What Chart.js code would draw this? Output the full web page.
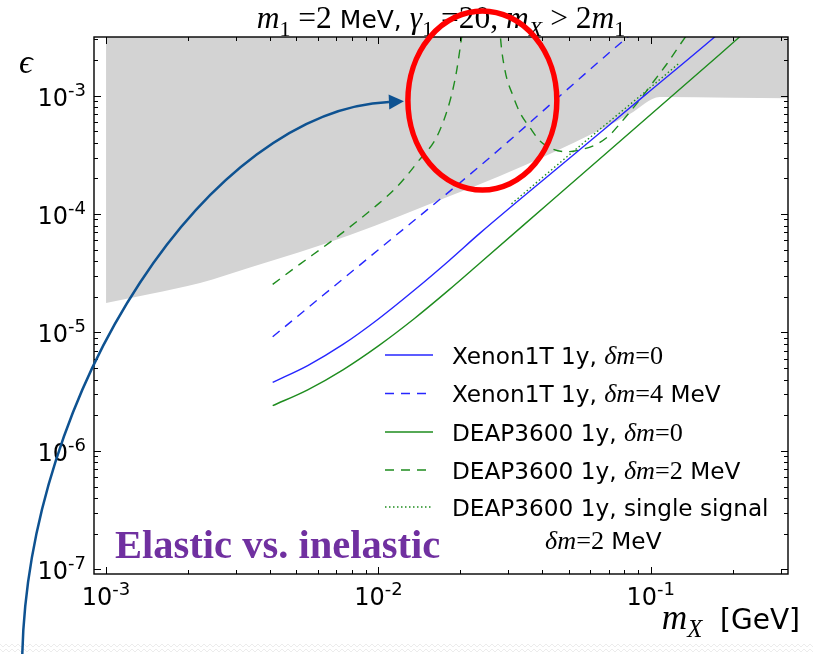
<!DOCTYPE html>
<html>
<head>
<meta charset="utf-8">
<script src="https://cdn.jsdelivr.net/npm/chart.js@4.4.1/dist/chart.umd.min.js"></script>
<style>
  html, body { margin: 0; padding: 0; background: #ffffff; }
  #wrap { width: 815px; height: 654px; }
</style>
</head>
<body>
<div id="wrap"><canvas id="chart" width="815" height="654"></canvas></div>
<script>
// ---- axis ranges (GeV, epsilon) ----
const massRange = [9.03e-4, 0.319];
const epsRange = [9.12e-8, 3.13e-3];

// ---- decade tick labels (exponents of 10) ----
const xTickExp = [-3, -2, -1];
const yTickExp = [-7, -6, -5, -4, -3];

// ---- excluded region: lower edge of the shaded area ----
const boundMass = [0.001, 0.00145, 0.002213, 0.003376, 0.005151, 0.007858, 0.011991, 0.018296, 0.027915, 0.04259, 0.065, 0.08376, 0.1079, 0.2, 0.35];
const boundEps  = [1.774e-5, 2.113e-5, 2.617e-5, 3.54e-5, 4.786e-5, 6.66e-5, 9.64e-5, 1.422e-4, 2.099e-4, 3.22e-4, 5.13e-4, 7.0e-4, 9.75e-4, 9.6e-4, 9.5e-4];

// ---- Xenon1T 1y, dm = 0 ----
const xeMass0 = [0.00409, 0.0055, 0.00741, 0.01, 0.01349, 0.0182, 0.0236, 0.0548, 0.0964, 0.1694, 0.19];
const xeEps0  = [3.79e-6, 5.25e-6, 7.92e-6, 1.3e-5, 2.26e-5, 4.06e-5, 6.9e-5, 3.49e-4, 1.035e-3, 3.06e-3, 3.85e-3];

// ---- Xenon1T 1y, dm = 4 MeV ----
const xeMass4 = [0.00409, 0.01, 0.0236, 0.0791, 0.09];
const xeEps4  = [9.2e-6, 5.0e-5, 2.55e-4, 2.9e-3, 3.7e-3];

// ---- DEAP3600 1y, dm = 0 ----
const deMass0 = [0.00409, 0.0055, 0.00741, 0.01, 0.01349, 0.0182, 0.0236, 0.0426, 0.179, 0.23];
const deEps0  = [2.41e-6, 3.28e-6, 4.84e-6, 7.71e-6, 1.3e-5, 2.3e-5, 3.86e-5, 1.26e-4, 2.23e-3, 3.7e-3];

// ---- DEAP3600 1y, dm = 2 MeV (two branches joined above the frame) ----
const deMass2 = [0.00409, 0.00515, 0.00681, 0.00987, 0.01167, 0.0138, 0.01682, 0.0191, 0.0202, 0.0206, 0.0208,
                 0.0276, 0.0278, 0.02805, 0.0291, 0.0312, 0.0331, 0.036, 0.0392, 0.0439, 0.0491, 0.0548, 0.06321,
                 0.07071, 0.0769, 0.08376, 0.09346, 0.1034, 0.1145, 0.1278, 0.1414];
const deEps2  = [2.55e-5, 3.78e-5, 6.04e-5, 1.19e-4, 1.69e-4, 2.68e-4, 5.13e-4, 1.36e-3, 3.1e-3, 4.4e-3, 1e-2,
                 1e-2, 4.4e-3, 3.13e-3, 1.67e-3, 9.94e-4, 7.18e-4, 5.37e-4, 4.14e-4, 3.52e-4, 3.36e-4, 3.478e-4, 3.886e-4,
                 4.66e-4, 5.77e-4, 7.28e-4, 9.94e-4, 1.357e-3, 1.852e-3, 2.68e-3, 3.73e-3];

// ---- DEAP3600 1y, single signal, dm = 2 MeV ----
const deMassS = [0.0308, 0.0426, 0.0548, 0.0964, 0.1278];
const deEpsS  = [1.22e-4, 2.3e-4, 3.75e-4, 1.1e-3, 1.9e-3];

// ---- legend text (sans text mixed with math italic) ----
const legendRows = [
  [{t: 'Xenon1T 1y, ', s: 'sans'}, {t: 'δm', s: 'it'}, {t: '=0', s: 'rm'}],
  [{t: 'Xenon1T 1y, ', s: 'sans'}, {t: 'δm', s: 'it'}, {t: '=4', s: 'rm'}, {t: ' MeV', s: 'sans'}],
  [{t: 'DEAP3600 1y, ', s: 'sans'}, {t: 'δm', s: 'it'}, {t: '=0', s: 'rm'}],
  [{t: 'DEAP3600 1y, ', s: 'sans'}, {t: 'δm', s: 'it'}, {t: '=2', s: 'rm'}, {t: ' MeV', s: 'sans'}],
  [{t: 'DEAP3600 1y, single signal', s: 'sans'}]
];
const legendExtraLine = [{t: 'δm', s: 'it'}, {t: '=2', s: 'rm'}, {t: ' MeV', s: 'sans'}];

const titleText = [
  {t: 'm', s: 'it'}, {t: '1', s: 'rm', sub: 1}, {t: ' =2', s: 'rm'}, {t: ' MeV, ', s: 'sans'},
  {t: 'γ', s: 'it'}, {t: '1', s: 'rm', sub: 1}, {t: ' =20, ', s: 'rm'},
  {t: 'm', s: 'it'}, {t: 'X', s: 'it', sub: 1}, {t: ' > 2', s: 'rm'}, {t: 'm', s: 'it'}, {t: '1', s: 'rm', sub: 1}
];
const xLabelText = [{t: 'm', s: 'it'}, {t: 'X', s: 'it', sub: 1}, {t: '  [GeV]', s: 'sans'}];
const yLabelText = [{t: 'ϵ', s: 'it'}];
const noteText = 'Elastic vs. inelastic';

// ---- annotation geometry, in data coordinates ----
const noteAnchor = {x: 1.079e-3, y: 1.245e-7};
const ringBox = {xMin: 0.01283, xMax: 0.04519, yMin: 1.597e-4, yMax: 5.19e-3};
const arrowCurve = [[4.92e-4, 1.71e-8], [5.085e-4, 3.268e-6], [2.408e-3, 7.57e-4], [0.01093, 8.85e-4]];

const BLUE = '#2626ff';
const GREEN = '#1e8c1e';
const SANS = '"DejaVu Sans", "Noto Sans", sans-serif';
const MATH = '"Liberation Serif", "DejaVu Serif", serif';

const pts = (xs, ys) => xs.map((v, i) => ({x: v, y: ys[i]}));

function segFont(seg, size, mathScale) {
  const math = seg.s !== 'sans';
  let sz = math ? size * mathScale : size;
  if (seg.sub) sz *= 0.7;
  return (seg.s === 'it' ? 'italic ' : '') + sz.toFixed(1) + 'px ' + (math ? MATH : SANS);
}
function richWidth(ctx, segs, size, mathScale) {
  let w = 0;
  for (const s of segs) { ctx.font = segFont(s, size, mathScale); w += ctx.measureText(s.t).width; }
  return w;
}
function drawRich(ctx, segs, x, y, size, align, mathScale) {
  const w = richWidth(ctx, segs, size, mathScale);
  let cx = align === 'center' ? x - w / 2 : align === 'right' ? x - w : x;
  ctx.textAlign = 'left';
  ctx.textBaseline = 'alphabetic';
  for (const s of segs) {
    ctx.font = segFont(s, size, mathScale);
    ctx.fillText(s.t, cx, y + (s.sub ? size * 0.3 : 0));
    cx += ctx.measureText(s.t).width;
  }
  return w;
}
function powerLabel(ctx, exp, x, y, align) {
  ctx.textAlign = 'left';
  ctx.textBaseline = 'alphabetic';
  ctx.font = '24px ' + SANS;
  const wb = ctx.measureText('10').width;
  ctx.font = '18px ' + SANS;
  const we = ctx.measureText(String(exp)).width;
  const w = wb + we;
  const x0 = align === 'center' ? x - w / 2 : x - w;
  ctx.font = '24px ' + SANS;
  ctx.fillText('10', x0, y);
  ctx.font = '18px ' + SANS;
  ctx.fillText(String(exp), x0 + wb, y - 10);
}
function logTicks(min, max) {
  const out = [];
  for (let e = Math.floor(Math.log10(min)); e <= Math.ceil(Math.log10(max)); e++) {
    for (let m = 1; m < 10; m++) {
      const v = m * Math.pow(10, e);
      if (v >= min * 0.9999 && v <= max * 1.0001) out.push({v, major: m === 1});
    }
  }
  return out;
}

const decorations = {
  id: 'decorations',
  beforeDraw(chart) {
    const ctx = chart.ctx;
    ctx.save();
    ctx.fillStyle = '#ffffff';
    ctx.fillRect(0, 0, chart.width, chart.height);
    // faint zig-zag band along the foot of the page
    ctx.strokeStyle = '#ececec';
    ctx.lineWidth = 1;
    for (const base of [645.5, 650.5]) {
      ctx.beginPath();
      for (let px = 0; px <= chart.width; px += 3) {
        const yy = base + ((px / 3) % 2 === 0 ? -1.5 : 1.5);
        if (px === 0) ctx.moveTo(px, yy); else ctx.lineTo(px, yy);
      }
      ctx.stroke();
    }
    ctx.restore();
  },
  afterDraw(chart) {
    const ctx = chart.ctx;
    const a = chart.chartArea;
    const xs = chart.scales.x, ys = chart.scales.y;
    ctx.save();

    // frame and inward ticks on all four sides
    ctx.strokeStyle = '#000000';
    ctx.lineWidth = 1;
    ctx.beginPath();
    for (const t of logTicks(xs.min, xs.max)) {
      const px = Math.round(xs.getPixelForValue(t.v)) + 0.5;
      const len = t.major ? 7 : 4;
      ctx.moveTo(px, a.bottom); ctx.lineTo(px, a.bottom - len);
      ctx.moveTo(px, a.top); ctx.lineTo(px, a.top + len);
    }
    for (const t of logTicks(ys.min, ys.max)) {
      const py = Math.round(ys.getPixelForValue(t.v)) + 0.5;
      const len = t.major ? 7 : 4;
      ctx.moveTo(a.left, py); ctx.lineTo(a.left + len, py);
      ctx.moveTo(a.right, py); ctx.lineTo(a.right - len, py);
    }
    ctx.stroke();
    ctx.lineWidth = 1.4;
    ctx.strokeRect(a.left, a.top, a.right - a.left, a.bottom - a.top);

    // tick labels
    ctx.fillStyle = '#000000';
    for (const e of xTickExp) powerLabel(ctx, e, xs.getPixelForValue(Math.pow(10, e)), a.bottom + 31, 'center');
    for (const e of yTickExp) powerLabel(ctx, e, a.left - 8, ys.getPixelForValue(Math.pow(10, e)) + 10, 'right');

    // title and axis labels
    drawRich(ctx, titleText, (a.left + a.right) / 2, 28, 25, 'center', 1.26);
    drawRich(ctx, xLabelText, 800, 629, 28, 'right', 1.26);
    drawRich(ctx, yLabelText, 19, 73, 27, 'left', 1.26);

    // legend
    const lx0 = 385, lx1 = 433, tx = 452;
    const rowY = [355, 393.5, 432, 470, 507];
    const fs = 23.2, ms = 1.13;
    [0, 1, 2, 3, 4].forEach(i => {
      const ds = chart.data.datasets[i];
      ctx.save();
      ctx.strokeStyle = ds.borderColor;
      ctx.lineWidth = ds.borderWidth;
      ctx.setLineDash(ds.borderDash || []);
      ctx.beginPath();
      ctx.moveTo(lx0, rowY[i]); ctx.lineTo(lx1, rowY[i]);
      ctx.stroke();
      ctx.restore();
      ctx.fillStyle = '#000000';
      drawRich(ctx, legendRows[i], tx, rowY[i] + 8.5, fs, 'left', ms);
    });
    const w5 = richWidth(ctx, legendRows[4], fs, ms);
    drawRich(ctx, legendExtraLine, tx + w5 / 2 - 7, 548.5, fs, 'center', ms);

    // note
    ctx.fillStyle = '#7030a0';
    ctx.font = 'bold 40.5px "Liberation Serif", "DejaVu Serif", serif';
    ctx.textAlign = 'left';
    ctx.textBaseline = 'alphabetic';
    ctx.fillText(noteText, xs.getPixelForValue(noteAnchor.x), ys.getPixelForValue(noteAnchor.y));

    // highlight ring
    const rx0 = xs.getPixelForValue(ringBox.xMin), rx1 = xs.getPixelForValue(ringBox.xMax);
    const ry0 = ys.getPixelForValue(ringBox.yMax), ry1 = ys.getPixelForValue(ringBox.yMin);
    ctx.strokeStyle = '#ff0000';
    ctx.lineWidth = 5.5;
    ctx.beginPath();
    ctx.ellipse((rx0 + rx1) / 2, (ry0 + ry1) / 2, (rx1 - rx0) / 2, (ry1 - ry0) / 2, 0, 0, Math.PI * 2);
    ctx.stroke();

    // curved arrow
    const P = arrowCurve.map(p => [xs.getPixelForValue(p[0]), ys.getPixelForValue(p[1])]);
    ctx.strokeStyle = '#0e5291';
    ctx.fillStyle = '#0e5291';
    ctx.lineWidth = 2.5;
    ctx.beginPath();
    ctx.moveTo(P[0][0], P[0][1]);
    ctx.bezierCurveTo(P[1][0], P[1][1], P[2][0], P[2][1], P[3][0], P[3][1]);
    ctx.stroke();
    let dx = P[3][0] - P[2][0], dy = P[3][1] - P[2][1];
    const dl = Math.hypot(dx, dy); dx /= dl; dy /= dl;
    const tipX = P[3][0] + dx * 15, tipY = P[3][1] + dy * 15;
    ctx.beginPath();
    ctx.moveTo(tipX, tipY);
    ctx.lineTo(P[3][0] - dy * 7.5, P[3][1] + dx * 7.5);
    ctx.lineTo(P[3][0] + dy * 7.5, P[3][1] - dx * 7.5);
    ctx.closePath();
    ctx.fill();

    ctx.restore();
  }
};

const lineBase = {showLine: true, pointRadius: 0, pointHoverRadius: 0, fill: false, cubicInterpolationMode: 'monotone'};

new Chart(document.getElementById('chart'), {
  type: 'scatter',
  data: {
    datasets: [
      Object.assign({}, lineBase, {label: 'Xenon1T 1y, δm=0', data: pts(xeMass0, xeEps0), borderColor: BLUE, borderWidth: 1.4, order: 1}),
      Object.assign({}, lineBase, {label: 'Xenon1T 1y, δm=4 MeV', data: pts(xeMass4, xeEps4), borderColor: BLUE, borderWidth: 1.4, borderDash: [9, 7], order: 1}),
      Object.assign({}, lineBase, {label: 'DEAP3600 1y, δm=0', data: pts(deMass0, deEps0), borderColor: GREEN, borderWidth: 1.4, order: 1}),
      Object.assign({}, lineBase, {label: 'DEAP3600 1y, δm=2 MeV', data: pts(deMass2, deEps2), borderColor: GREEN, borderWidth: 1.4, borderDash: [9, 7], order: 1}),
      Object.assign({}, lineBase, {label: 'DEAP3600 1y, single signal δm=2 MeV', data: pts(deMassS, deEpsS), borderColor: GREEN, borderWidth: 1.4, borderDash: [1.5, 2.5], order: 1}),
      Object.assign({}, lineBase, {label: 'excluded', data: pts(boundMass, boundEps), borderWidth: 0, borderColor: 'rgba(0,0,0,0)', backgroundColor: '#d3d3d3', fill: 'end', order: 5})
    ]
  },
  options: {
    responsive: false,
    animation: false,
    devicePixelRatio: 1,
    layout: {padding: {left: 94, right: 27, top: 37, bottom: 80}},
    scales: {
      x: {type: 'logarithmic', min: massRange[0], max: massRange[1], display: false},
      y: {type: 'logarithmic', min: epsRange[0], max: epsRange[1], display: false}
    },
    plugins: {legend: {display: false}, tooltip: {enabled: false}, title: {display: false}}
  },
  plugins: [decorations]
});
</script>
</body>
</html>
